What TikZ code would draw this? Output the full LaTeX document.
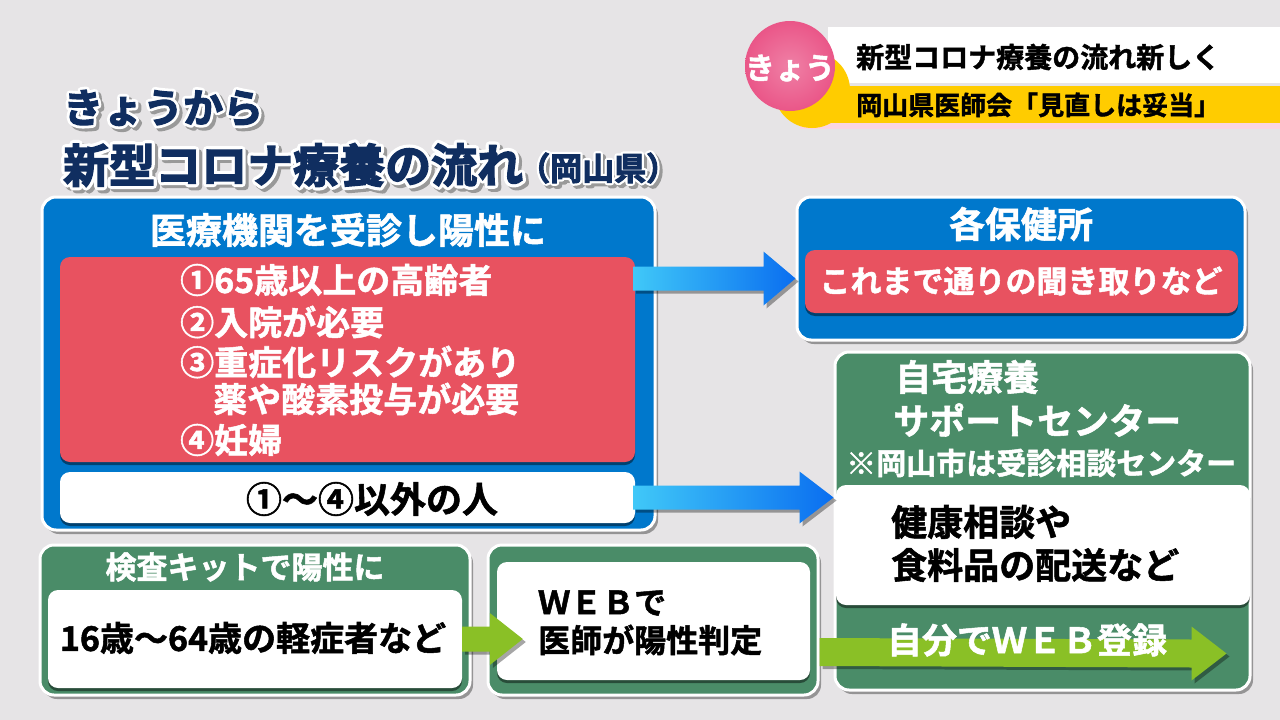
\documentclass[tikz,border=0pt]{standalone}
\usepackage{fontspec}
\setmainfont{Noto Sans CJK JP}[BoldFont=* Bold, BoldFeatures={FakeBold=1.5}]
\newfontfamily\outlinefont{Noto Sans CJK JP Bold}[FakeBold=17]
\newfontfamily\titlefont{Noto Sans CJK JP Bold}[FakeBold=3]
\newcommand\roundjoin{\special{pdf:literal direct 1 j 1 J}}
\usetikzlibrary{shadows,calc}
\definecolor{bg}{RGB}{230,228,230}
\definecolor{boxblue}{RGB}{0,120,204}
\definecolor{boxred}{RGB}{232,82,96}
\definecolor{boxgreen}{RGB}{74,140,104}
\definecolor{lime}{RGB}{138,192,38}
\definecolor{navy}{RGB}{16,46,96}
\definecolor{ylw}{RGB}{255,204,0}
\definecolor{pnk}{RGB}{234,86,136}
\definecolor{arrA}{RGB}{64,200,248}
\definecolor{arrB}{RGB}{10,110,240}
\tikzset{
  frame/.style={rounded corners=14pt, draw=white, line width=3pt, inner sep=0pt,
    drop shadow={shadow xshift=3pt,shadow yshift=-4pt,opacity=0.35,fill=black}},
  innerbox/.style={rounded corners=10pt, inner sep=0pt,
    drop shadow={shadow xshift=0pt,shadow yshift=-3pt,opacity=0.45,fill=black}},
  jt/.style={font=\bfseries\fontsize{#1}{#1}\selectfont, inner sep=0pt},
  wt/.style={jt=#1, text=white},
  bt/.style={jt=#1, text=black},
  ttl/.style={font=\titlefont\fontsize{#1}{#1}\selectfont, inner sep=0pt, anchor=west, text=navy},
  ttlo/.style={font=\outlinefont\fontsize{#1}{#1}\selectfont, inner sep=0pt, anchor=west},
  arrshadow/.style={drop shadow={shadow xshift=3pt,shadow yshift=-3pt,opacity=0.35,fill=black}},
}
\begin{document}
\begin{tikzpicture}[x=1pt,y=-1pt]
\useasboundingbox (0,0) rectangle (1280,720);
\fill[bg] (0,0) rectangle (1280,720);

% ---- top-right banner
\fill[pnk!25] (800,121) rectangle (1280,129);
\fill[white] (828,27) rectangle (1280,83);
\fill[ylw] (800,86) rectangle (1280,123);
\fill[ylw] (812,90) circle (38);
\shade[inner color=pnk!75!white, outer color=pnk] (790,66) circle (45);
\node[wt=30] (kyou) at (790,68) {きょう};
\node[jt=28, anchor=west] (band1) at (856,57) {新型コロナ療養の流れ新しく};
\node[jt=26, anchor=west] (band2) at (856,105) {岡山県医師会「見直しは妥当」};

% ---- title (outlined navy text with grey shadow)
\node[ttlo=40, text=black!40] at (66,111) {\roundjoin きょうから};
\node[ttlo=40, text=white] at (63,108) {\roundjoin きょうから};
\node[ttl=40] (t1) at (63,108) {きょうから};
\node[ttlo=46, text=black!40] at (66,168) {\roundjoin 新型コロナ療養の流れ};
\node[ttlo=46, text=white] at (63,165) {\roundjoin 新型コロナ療養の流れ};
\node[ttl=46] (t2) at (63,165) {新型コロナ療養の流れ};
\node[ttlo=32, text=black!40] at (521,171) {\roundjoin （岡山県）};
\node[ttlo=32, text=white] at (518,168) {\roundjoin （岡山県）};
\node[ttl=32] (t3) at (518,168) {（岡山県）};

% ---- left blue box
\node[frame, fill=boxblue, minimum width=613pt, minimum height=333pt] (blueL) at (348.5,363.5) {};
\node[wt=36] (hL) at (348,230) {医療機関を受診し陽性に};
\node[innerbox, fill=boxred, minimum width=575pt, minimum height=205pt] (redL) at (347.5,359.5) {};
\node[wt=34, anchor=west] (r1) at (180,280) {①65歳以上の高齢者};
\node[wt=34, anchor=west] (r2) at (180,322) {②入院が必要};
\node[wt=34, anchor=west] (r3) at (180,362) {③重症化リスクがあり};
\node[wt=34, anchor=west] (r4) at (213,399) {薬や酸素投与が必要};
\node[wt=34, anchor=west] (r5) at (180,440) {④妊婦};
\node[innerbox, fill=white, minimum width=575pt, minimum height=51pt] (whiteL) at (347.5,497.5) {};
\node[bt=36] (wL) at (372,499) {①〜④以外の人};

% ---- right blue box
\node[frame, fill=boxblue, minimum width=448pt, minimum height=143pt] (blueR) at (1021,268.5) {};
\node[wt=36] (hR) at (1021,224) {各保健所};
\node[innerbox, fill=boxred, minimum width=433pt, minimum height=63pt] (redR) at (1021.5,281.5) {};
\node[wt=31] (rR) at (1021,281) {これまで通りの聞き取りなど};

% ---- right green box
\node[frame, fill=boxgreen, minimum width=415pt, minimum height=338pt] (greenR) at (1042.5,521) {};
\node[wt=36, anchor=west] (g1) at (895,377) {自宅療養};
\node[wt=36, anchor=west] (g2) at (893,420) {サポートセンター};
\node[wt=30, anchor=west] (g3) at (846,463) {※岡山市は受診相談センター};
\node[innerbox, fill=white, minimum width=414pt, minimum height=120pt] (whiteR) at (1043,545) {};
\node[bt=36, anchor=west] (w1) at (891,522) {健康相談や};
\node[bt=36, anchor=west] (w2) at (891,565) {食料品の配送など};

% ---- bottom left green box
\node[frame, fill=boxgreen, minimum width=430pt, minimum height=150pt] (greenBL) at (255,620) {};
\node[wt=31] (hBL) at (245,567) {検査キットで陽性に};
\node[innerbox, fill=white, minimum width=414pt, minimum height=98pt] (whiteBL) at (255,639) {};
\node[bt=34] (tBL) at (253,638) {16歳〜64歳の軽症者など};

% ---- bottom middle green box
\node[frame, fill=boxgreen, minimum width=330pt, minimum height=150pt] (greenBM) at (653,620) {};
\node[innerbox, fill=white, minimum width=313pt, minimum height=118pt] (whiteBM) at (653.5,621) {};
\node[bt=32, anchor=west] (m1) at (538,603) {ＷＥＢで};
\node[bt=32, anchor=west] (m2) at (538,640) {医師が陽性判定};

% ---- blue arrows
\coordinate (s1) at ($(redL.east |- redR.west)+(-2,-3)$);
\coordinate (e1) at ($(blueR.west |- s1)$);
\path[arrshadow, left color=arrA, right color=arrB]
  ($(s1)+(0,-12)$) -- ($(e1)+(-32,-12)$) -- ($(e1)+(-32,-27)$) -- (e1)
  -- ($(e1)+(-32,27)$) -- ($(e1)+(-32,12)$) -- ($(s1)+(0,12)$) -- cycle;
\coordinate (s2) at ($(whiteL.east)+(-2,0)$);
\coordinate (e2) at ($(greenR.west |- s2)$);
\path[arrshadow, left color=arrA, right color=arrB]
  ($(s2)+(0,-12)$) -- ($(e2)+(-34,-12)$) -- ($(e2)+(-34,-26)$) -- (e2)
  -- ($(e2)+(-34,26)$) -- ($(e2)+(-34,12)$) -- ($(s2)+(0,12)$) -- cycle;

% ---- lime arrows
\coordinate (s3) at (whiteBL.east);
\coordinate (e3) at ($(whiteBM.west |- s3)+(26,0)$);
\path[arrshadow, fill=lime]
  ($(s3)+(0,-12.5)$) -- ($(e3)+(-33,-12.5)$) -- ($(e3)+(-33,-26)$) -- (e3)
  -- ($(e3)+(-33,26)$) -- ($(e3)+(-33,12.5)$) -- ($(s3)+(0,12.5)$) -- cycle;
\coordinate (s4) at ($(greenBM.east)+(0,32)$);
\coordinate (e4) at ($(greenR.south east)+(-25,-38)$);
\path[arrshadow, fill=lime]
  ($(s4)+(0,-14)$) -- ($(e4)+(-35,-14)$) -- ($(e4)+(-35,-27)$) -- (e4)
  -- ($(e4)+(-35,27)$) -- ($(e4)+(-35,14)$) -- ($(s4)+(0,14)$) -- cycle;
\node[wt=35] (web) at (1027,640) {自分でＷＥＢ登録};
\end{tikzpicture}
\end{document}
